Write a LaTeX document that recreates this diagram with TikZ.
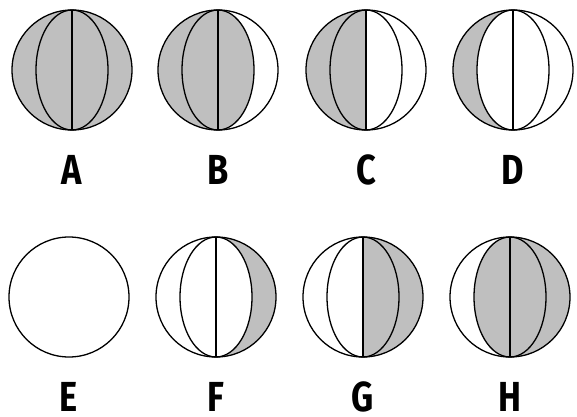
\documentclass[tikz,border=0pt]{standalone}
\usepackage{fontspec}
\newfontfamily\labelfont[FakeStretch=0.82]{Fira Sans}
\begin{document}
\begin{tikzpicture}[x=1pt,y=1pt,
    shaded/.style={fill=gray!50},
    outline/.style={draw=black,line width=1.3pt},
    letter/.style={font=\labelfont\bfseries\fontsize{42}{42}\selectfont,inner sep=0pt}]
    \useasboundingbox (0,0) rectangle (577,416);
    \def\rad{60}
    \foreach \name/\cx/\cy/\lft/\rgt in {A/72/346/1/1, B/218/346/1/0.6, C/366/346/1/0.001, D/513/346/1/-0.6,
                                         F/216/119/-0.6/1, G/363/119/0.001/1, H/510/119/0.6/1} {
        \fill[shaded] (\cx,\cy+\rad) arc[start angle=90,end angle=270,x radius=\lft*\rad,y radius=\rad]
                                     arc[start angle=270,end angle=450,x radius=\rgt*\rad,y radius=\rad] -- cycle;
        \draw[outline] (\cx,\cy) circle[radius=\rad];
        \draw[outline] (\cx,\cy) ellipse[x radius=0.6*\rad,y radius=\rad];
        \draw[outline] (\cx,\cy+\rad) -- (\cx,\cy-\rad);
        \node[letter] (lbl\name) at (\cx,\cy-100) {\name};
    }
    \draw[outline] (69,119) circle[radius=\rad];
    \node[letter] (lblE) at (69,19) {E};
\end{tikzpicture}
\end{document}
